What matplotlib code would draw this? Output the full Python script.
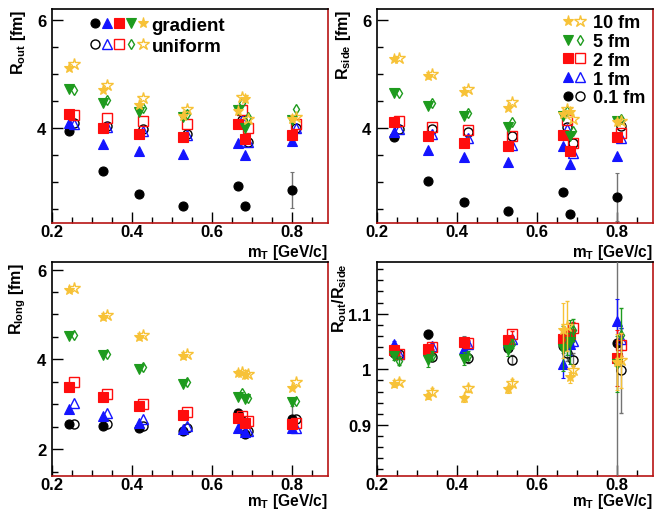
import matplotlib.pyplot as plt
from matplotlib.legend_handler import HandlerTuple
from matplotlib.ticker import MultipleLocator

plt.rcParams['font.family'] = ['Liberation Sans', 'DejaVu Sans']
plt.rcParams['font.weight'] = 'bold'
plt.rcParams['mathtext.fontset'] = 'custom'
plt.rcParams['mathtext.rm'] = 'Liberation Sans:bold'
plt.rcParams['mathtext.it'] = 'Liberation Sans:bold'
plt.rcParams['mathtext.bf'] = 'Liberation Sans:bold'
plt.rcParams['mathtext.default'] = 'rm'

# mT values of the points (gradient / uniform sets are slightly shifted)
mt_grad = [0.243, 0.328, 0.418, 0.527, 0.665, 0.683, 0.800]
mt_unif = [0.255, 0.338, 0.428, 0.537, 0.676, 0.691, 0.810]

# series order: 0.1 fm, 1 fm, 2 fm, 5 fm, 10 fm
sizes = ['0.1 fm', '1 fm', '2 fm', '5 fm', '10 fm']

# R_out
rout_grad = [[3.94, 3.21, 2.78, 2.57, 2.94, 2.56, 2.86],
             [4.09, 3.70, 3.57, 3.52, 3.72, 3.50, 3.77],
             [4.26, 4.00, 3.90, 3.84, 4.07, 3.80, 3.88],
             [4.73, 4.46, 4.30, 4.20, 4.34, 4.01, 4.15],
             [5.12, 4.71, 4.43, 4.23, 4.32, 4.54, 4.17]]
rout_unif = [[4.09, 4.04, 3.99, 3.89, 4.15, 3.75, 4.01],
             [4.08, 4.03, 3.95, 3.87, 4.15, 3.75, 4.01],
             [4.24, 4.19, 4.14, 4.08, 4.34, 4.01, 4.07],
             [4.71, 4.52, 4.38, 4.27, 4.46, 4.20, 4.35],
             [5.18, 4.80, 4.55, 4.35, 4.57, 4.17, 4.20]]

# R_side
rside_grad = [[3.83, 3.02, 2.64, 2.48, 2.83, 2.42, 2.73],
              [3.93, 3.60, 3.46, 3.38, 3.67, 3.33, 3.48],
              [4.12, 3.86, 3.72, 3.67, 3.87, 3.58, 3.83],
              [4.65, 4.41, 4.22, 4.03, 4.23, 3.86, 4.14],
              [5.28, 4.97, 4.67, 4.38, 4.26, 4.30, 4.12]]
rside_unif = [[3.98, 3.98, 3.93, 3.85, 4.02, 3.72, 4.04],
              [3.99, 3.89, 3.81, 3.69, 3.98, 3.55, 3.81],
              [4.14, 4.03, 3.96, 3.86, 4.15, 3.73, 3.91],
              [4.65, 4.46, 4.28, 4.12, 4.32, 3.95, 4.17],
              [5.29, 5.00, 4.72, 4.49, 4.35, 4.17, 4.14]]

# R_long
rlong_grad = [[2.55, 2.51, 2.48, 2.40, 2.81, 2.33, 2.66],
              [2.89, 2.74, 2.59, 2.44, 2.48, 2.37, 2.46],
              [3.39, 3.15, 2.95, 2.76, 2.70, 2.59, 2.57],
              [4.51, 4.10, 3.78, 3.45, 3.16, 3.11, 3.05],
              [5.54, 4.94, 4.49, 4.08, 3.69, 3.65, 3.37]]
rlong_unif = [[2.57, 2.55, 2.51, 2.48, 2.63, 2.40, 2.66],
              [3.02, 2.81, 2.68, 2.51, 2.59, 2.40, 2.46],
              [3.49, 3.22, 3.01, 2.83, 2.74, 2.63, 2.59],
              [4.55, 4.11, 3.82, 3.49, 3.25, 3.13, 3.07],
              [5.59, 4.98, 4.54, 4.13, 3.72, 3.67, 3.49]]

# error on the 0.1 fm gradient points (others are hidden by markers)
err_rout = [0.02, 0.02, 0.02, 0.02, 0.03, 0.03, 0.33]
err_rside = [0.02, 0.02, 0.02, 0.02, 0.03, 0.03, 0.45]
err_rlong = [0.02, 0.02, 0.02, 0.02, 0.03, 0.03, 0.30]

# R_out / R_side
ratio_grad = [[1.030, 1.063, 1.049, 1.039, 1.042, 1.055, 1.048],
              [1.046, 1.034, 1.037, 1.049, 1.010, 1.045, 1.087],
              [1.034, 1.037, 1.049, 1.052, 1.054, 1.063, 1.020],
              [1.024, 1.016, 1.019, 1.034, 1.037, 1.049, 1.010],
              [0.974, 0.952, 0.948, 0.964, 1.070, 0.986, 1.013]]
ratio_unif = [[1.027, 1.022, 1.020, 1.017, 1.030, 1.017, 0.998],
              [1.027, 1.042, 1.046, 1.055, 1.055, 1.051, 1.055],
              [1.027, 1.040, 1.048, 1.063, 1.064, 1.075, 1.043],
              [1.014, 1.024, 1.024, 1.046, 1.046, 1.070, 1.061],
              [0.978, 0.960, 0.966, 0.976, 1.078, 0.998, 1.016]]
ratio_err_grad = [[0.006, 0.008, 0.010, 0.008, 0.012, 0.012, 0.300],
                  [0.005, 0.006, 0.006, 0.006, 0.025, 0.020, 0.040],
                  [0.005, 0.005, 0.006, 0.006, 0.012, 0.010, 0.050],
                  [0.008, 0.012, 0.012, 0.010, 0.040, 0.040, 0.050],
                  [0.006, 0.006, 0.006, 0.006, 0.050, 0.010, 0.050]]
ratio_err_unif = [[0.006, 0.008, 0.008, 0.008, 0.015, 0.012, 0.077],
                  [0.004, 0.005, 0.005, 0.005, 0.010, 0.010, 0.020],
                  [0.004, 0.005, 0.005, 0.005, 0.010, 0.010, 0.020],
                  [0.006, 0.008, 0.008, 0.008, 0.020, 0.020, 0.050],
                  [0.005, 0.006, 0.006, 0.006, 0.045, 0.010, 0.050]]

colors = ['black', '#1414ff', '#ff0d0d', '#1e9b1e', '#f7c237']
err_colors = ['0.45', '#1414ff', '#ff0d0d', '#1e9b1e', '#f7c237']
mk_grad = ['o', '^', 's', 'v', '*']
mk_unif = ['o', '^', 's', 'd', '*']
ms_grad = [6.5, 6.5, 6.5, 6.5, 8]
ms_unif = [6.5, 6.5, 6.5, 5.5, 9]

fig = plt.figure(figsize=(6.54, 5.10), dpi=100)
W, H = 654, 510


def add_ax(l, t, r, b):
    return fig.add_axes([l / W, 1 - b / H, (r - l) / W, (b - t) / H])


ax_out = add_ax(52, 10, 328, 224)
ax_side = add_ax(377, 10, 653, 224)
ax_long = add_ax(52, 263, 328, 477)
ax_rat = add_ax(377, 263, 653, 477)


def draw(ax, grad, unif, err_g=None, err_u=None):
    handles_g, handles_u = [], []
    for i in range(5):
        eg = err_g[i] if err_g is not None else None
        eu = err_u[i] if err_u is not None else None
        hg = ax.errorbar(mt_grad, grad[i], yerr=eg, fmt=mk_grad[i], ms=ms_grad[i],
                         color=colors[i], ecolor=err_colors[i], elinewidth=1,
                         capsize=1.5 if eg is not None else 0, mew=0.8, zorder=3 + i)
        hu = ax.errorbar(mt_unif, unif[i], yerr=eu, fmt=mk_unif[i], ms=ms_unif[i],
                         color=colors[i], mfc='none', ecolor=err_colors[i], elinewidth=1,
                         capsize=1.5 if eu is not None else 0, mew=1.0, zorder=3 + i)
        handles_g.append(hg[0])
        handles_u.append(hu[0])
    return handles_g, handles_u


def style(ax, ylim, ymaj, ymin, ylabel, xlab_y, ylab_x=-0.088):
    ax.set_xlim(0.2, 0.89)
    ax.set_ylim(*ylim)
    ax.xaxis.set_major_locator(MultipleLocator(0.2))
    ax.xaxis.set_minor_locator(MultipleLocator(0.05))
    ax.yaxis.set_major_locator(MultipleLocator(ymaj))
    ax.yaxis.set_minor_locator(MultipleLocator(ymin))
    ax.tick_params(which='both', direction='in', top=False, right=False,
                   labelsize=12, width=1)
    ax.tick_params(which='major', length=8)
    ax.tick_params(axis='x', which='major', pad=0.5)
    ax.tick_params(axis='y', which='major', pad=4)
    ax.tick_params(which='minor', length=4)
    for lab in ax.get_xticklabels() + ax.get_yticklabels():
        lab.set_fontweight('bold')
    ax.spines['left'].set_color('black')
    ax.spines['top'].set_color('black')
    ax.spines['right'].set_color('#b81414')
    ax.spines['bottom'].set_color('#b81414')
    for s in ax.spines.values():
        s.set_linewidth(1.2)
    ax.set_xlabel('m$_{T}$ [GeV/c]', loc='right', fontsize=11.2, fontweight='bold')
    ax.xaxis.set_label_coords(1.0, xlab_y)
    ax.set_ylabel(ylabel, loc='top', fontsize=11.5, fontweight='bold')
    ax.yaxis.set_label_coords(ylab_x, 1.0)


hg, hu = draw(ax_out, rout_grad, rout_unif,
              err_g=[err_rout, None, None, None, None])
draw(ax_side, rside_grad, rside_unif, err_g=[err_rside, None, None, None, None])
draw(ax_long, rlong_grad, rlong_unif, err_g=[err_rlong, None, None, None, None])
draw(ax_rat, ratio_grad, ratio_unif, err_g=ratio_err_grad, err_u=ratio_err_unif)

style(ax_out, (2.25, 6.2), 2, 0.5, 'R$_{out}$ [fm]', -0.09)
style(ax_side, (2.25, 6.2), 2, 0.5, 'R$_{side}$ [fm]', -0.09)
style(ax_long, (1.4, 6.17), 2, 0.5, 'R$_{long}$ [fm]', -0.069)
style(ax_rat, (0.808, 1.193), 0.1, 0.02, 'R$_{out}$/R$_{side}$', -0.069, -0.1)
ax_rat.yaxis.set_major_formatter(plt.FuncFormatter(lambda v, p: '%g' % round(v, 2)))

lp = {'weight': 'bold', 'size': 13.5}
ax_out.legend([tuple(hg), tuple(hu)], ['gradient', 'uniform'], prop=lp,
              handler_map={tuple: HandlerTuple(ndivide=None, pad=0)},
              handlelength=3.2, handletextpad=0.15, labelspacing=0.2,
              frameon=False, loc='upper left', bbox_to_anchor=(0.085, 1.025),
              borderpad=0.2)
order = [4, 3, 2, 1, 0]
ax_side.legend([(hg[i], hu[i]) for i in order], [sizes[i] for i in order],
               prop={'weight': 'bold', 'size': 13},
               handler_map={tuple: HandlerTuple(ndivide=None, pad=0)},
               handlelength=1.35, handletextpad=0.35, labelspacing=0.1,
               frameon=False, loc='upper left', bbox_to_anchor=(0.625, 1.035),
               borderpad=0.2)

fig.savefig('out.png', dpi=100)
